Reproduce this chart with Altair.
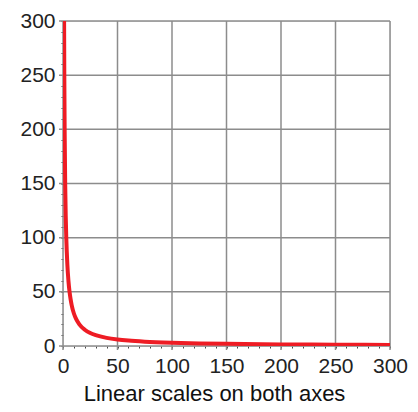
import altair as alt
import pandas as pd

# Curve values
curve_x = [1, 1.2, 1.5, 2, 2.5, 3, 4, 5, 6, 7, 8, 10, 12, 15, 20, 25, 30, 40,
           50, 60, 75, 100, 125, 150, 200, 250, 300]
curve_y = [300, 250, 200, 150, 120, 100, 75, 60, 50, 43, 37.5, 30, 25, 20, 15,
           12, 10, 7.5, 6, 5, 4, 3, 2.4, 2, 1.5, 1.2, 1]

grid_values = [0, 50, 100, 150, 200, 250, 300]
minor_ticks = list(range(0, 301, 10))
title_text = "Linear scales on both axes"

W, H = 327, 325
FONT = "Liberation Sans"

curve = pd.DataFrame({"x": curve_x, "y": curve_y})
grid = pd.DataFrame({"v": grid_values})

xscale = alt.Scale(domain=[0, 300], nice=False)
yscale = alt.Scale(domain=[0, 300], nice=False)

label_expr = "datum.value % 50 === 0 ? datum.label : ''"

x_axis = alt.Axis(values=minor_ticks, labelExpr=label_expr, grid=False,
                  domain=False, tickSize=2, tickColor="#444", tickWidth=1,
                  labelFontSize=21, labelFont=FONT, labelColor="#222",
                  labelPadding=7, labelOverlap=False, labelFlush=False,
                  title=None)
y_axis = alt.Axis(values=minor_ticks, labelExpr=label_expr, grid=False,
                  domain=False, tickSize=2, tickColor="#444", tickWidth=1,
                  labelFontSize=21, labelFont=FONT, labelColor="#222",
                  labelPadding=6, labelOverlap=False, labelFlush=False,
                  title=None)

vgrid = alt.Chart(grid).mark_rule(color="#8c8c8c", strokeWidth=1.5).encode(
    x=alt.X("v:Q", scale=xscale, axis=x_axis),
    y=alt.value(0),
    y2=alt.value(H + 4),
)
hgrid = alt.Chart(grid).mark_rule(color="#8c8c8c", strokeWidth=1.5).encode(
    y=alt.Y("v:Q", scale=yscale, axis=y_axis),
    x=alt.value(-4),
    x2=alt.value(W),
)
line = alt.Chart(curve).mark_line(color="#ee1c24", strokeWidth=4, clip=True,
                                  interpolate="monotone").encode(
    x=alt.X("x:Q", scale=xscale, axis=x_axis),
    y=alt.Y("y:Q", scale=yscale, axis=y_axis),
)

chart = alt.layer(vgrid, hgrid, line).properties(
    width=W, height=H,
    autosize=alt.AutoSizeParams(type="none"),
    padding={"left": 55, "top": 13, "right": 20, "bottom": 62},
    title=alt.TitleParams(title_text, orient="bottom", anchor="middle",
                          fontSize=22, font=FONT, fontWeight="normal",
                          color="#111", offset=8, dx=-12),
).configure_view(stroke=None).configure(background="white")

chart.save("out.html", embed_options={"renderer": "svg", "actions": False})
